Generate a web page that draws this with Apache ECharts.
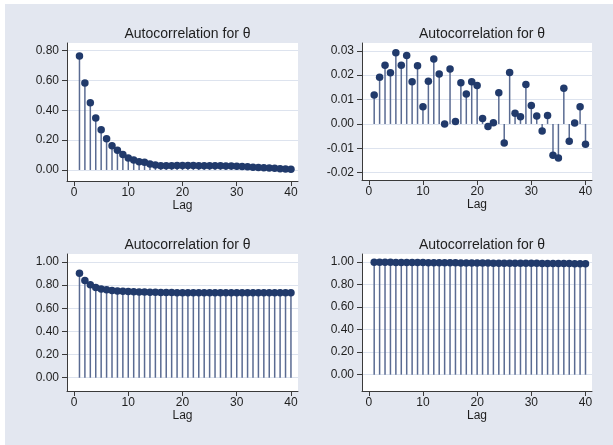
<!DOCTYPE html>
<html>
<head>
<meta charset="utf-8">
<script src="https://cdn.jsdelivr.net/npm/echarts@6/dist/echarts.min.js"></script>
<style>
  html, body { margin: 0; padding: 0; background: #ffffff; }
  #frame { position: absolute; left: 5px; top: 4px; width: 608px; height: 441px; background: #e3e7f0; }
  #chart { position: absolute; left: 0; top: 0; width: 613px; height: 445px; }
</style>
</head>
<body>
<div id="frame"></div>
<div id="chart"></div>
<script>
// Lags 1..40
const lags = [];
for (let i = 1; i <= 40; i++) lags.push(i);

// Autocorrelation values for each panel
const acfTopLeft = [0.764, 0.583, 0.451, 0.349, 0.270, 0.210, 0.163, 0.132, 0.103, 0.080,
  0.067, 0.056, 0.051, 0.040, 0.033, 0.029, 0.028, 0.029, 0.030, 0.030,
  0.030, 0.030, 0.029, 0.029, 0.029, 0.029, 0.028, 0.027, 0.026, 0.025,
  0.023, 0.021, 0.019, 0.017, 0.015, 0.013, 0.011, 0.009, 0.007, 0.005];

const acfTopRight = [0.0119, 0.0192, 0.0241, 0.0210, 0.0292, 0.0241, 0.0281, 0.0173, 0.0239, 0.0070,
  0.0175, 0.0266, 0.0205, 0.0000, 0.0225, 0.0010, 0.0169, 0.0123, 0.0173, 0.0158,
  0.0022, -0.0011, 0.0005, 0.0128, -0.0078, 0.0211, 0.0044, 0.0029, 0.0162, 0.0076,
  0.0033, -0.0029, 0.0035, -0.0128, -0.0140, 0.0146, -0.0071, 0.0004, 0.0070, -0.0083];

const acfBottomLeft = [0.902, 0.841, 0.803, 0.780, 0.766, 0.760, 0.754, 0.749, 0.746, 0.744,
  0.742, 0.741, 0.740, 0.739, 0.738, 0.737, 0.736, 0.736, 0.735, 0.735,
  0.735, 0.734, 0.734, 0.734, 0.734, 0.734, 0.734, 0.734, 0.734, 0.734,
  0.734, 0.734, 0.734, 0.734, 0.734, 0.734, 0.734, 0.734, 0.734, 0.734];

const acfBottomRight = [0.998, 0.998, 0.997, 0.997, 0.996, 0.996, 0.996, 0.995, 0.995, 0.995,
  0.994, 0.994, 0.994, 0.993, 0.993, 0.993, 0.992, 0.992, 0.992, 0.991,
  0.991, 0.991, 0.990, 0.990, 0.990, 0.989, 0.989, 0.989, 0.988, 0.988,
  0.988, 0.987, 0.987, 0.987, 0.986, 0.986, 0.986, 0.985, 0.985, 0.985];

// Tick labels
const xTicks = [0, 10, 20, 30, 40];
const yTicksTopLeft = [0, 0.2, 0.4, 0.6, 0.8];
const yTicksTopRight = [-0.02, -0.01, 0, 0.01, 0.02, 0.03];
const yTicksBottom = [0, 0.2, 0.4, 0.6, 0.8, 1.0];

const titleText = 'Autocorrelation for \u03b8';
const xName = 'Lag';

const panels = [
  { data: acfTopLeft, yTicks: yTicksTopLeft, grid: { left: 67, top: 43, width: 231, height: 138 }, yMin: -0.074, yMax: 0.852, xMin: -1.3, xMax: 41.3 },
  { data: acfTopRight, yTicks: yTicksTopRight, grid: { left: 362, top: 43, width: 230, height: 137 }, yMin: -0.023, yMax: 0.0332, xMin: -1.25, xMax: 41.2 },
  { data: acfBottomLeft, yTicks: yTicksBottom, grid: { left: 67, top: 254, width: 231, height: 137 }, yMin: -0.115, yMax: 1.069, xMin: -1.3, xMax: 41.3 },
  { data: acfBottomRight, yTicks: yTicksBottom, grid: { left: 362, top: 254, width: 230, height: 137 }, yMin: -0.145, yMax: 1.071, xMin: -1.25, xMax: 41.2 }
];

const textColor = '#1e1e1e';
const axisColor = '#3a3a3a';
const gridLineColor = '#dde3ee';
const stemColor = '#5a6b92';
const dotColor = '#213a6b';
const font = '"Liberation Sans", Arial, sans-serif';

const option = {
  animation: false,
  textStyle: { fontFamily: font },
  title: [],
  grid: [],
  xAxis: [],
  yAxis: [],
  series: []
};

panels.forEach((p, i) => {
  option.grid.push(Object.assign({ show: true, backgroundColor: '#ffffff', borderWidth: 0, containLabel: false }, p.grid));
  option.title.push({
    text: titleText,
    left: p.grid.left + p.grid.width / 2,
    top: p.grid.top - 21,
    textAlign: 'center',
    textStyle: { fontFamily: font, fontSize: 14, fontWeight: 'normal', color: textColor }
  });
  option.xAxis.push({
    type: 'value', gridIndex: i, min: p.xMin, max: p.xMax,
    name: xName, nameLocation: 'middle', nameGap: 18,
    nameTextStyle: { fontFamily: font, fontSize: 12, color: textColor },
    axisLine: { show: true, onZero: false, lineStyle: { color: axisColor, width: 1 } },
    axisTick: { show: true, length: 5, customValues: xTicks, lineStyle: { color: axisColor } },
    axisLabel: { customValues: xTicks, margin: 6, fontFamily: font, fontSize: 12, color: textColor },
    splitLine: { show: false }
  });
  option.yAxis.push({
    type: 'value', gridIndex: i, min: p.yMin, max: p.yMax,
    axisLine: { show: true, onZero: false, lineStyle: { color: axisColor, width: 1 } },
    axisTick: { show: true, length: 5, customValues: p.yTicks, lineStyle: { color: axisColor } },
    axisLabel: { customValues: p.yTicks, margin: 8, fontFamily: font, fontSize: 12, color: textColor,
      formatter: v => (Math.abs(v) < 1e-9 ? 0 : v).toFixed(2) },
    splitLine: { show: true, lineStyle: { color: gridLineColor, width: 1 } }
  });
  const pts = lags.map((l, k) => [l, p.data[k]]);
  // Stems from zero to each autocorrelation value
  option.series.push({
    type: 'custom', xAxisIndex: i, yAxisIndex: i, data: pts,
    renderItem: (params, api) => {
      const a = api.coord([api.value(0), 0]);
      const b = api.coord([api.value(0), api.value(1)]);
      return { type: 'line', shape: { x1: a[0], y1: a[1], x2: b[0], y2: b[1] },
        style: { stroke: stemColor, lineWidth: 1.5 } };
    },
    z: 2
  });
  // Markers at each lag
  option.series.push({
    type: 'scatter', xAxisIndex: i, yAxisIndex: i, data: pts,
    symbol: 'circle', symbolSize: 7.5, itemStyle: { color: dotColor, opacity: 1 },
    z: 3
  });
});

const chart = echarts.init(document.getElementById('chart'), null, { renderer: 'canvas' });
chart.setOption(option);
</script>
</body>
</html>
